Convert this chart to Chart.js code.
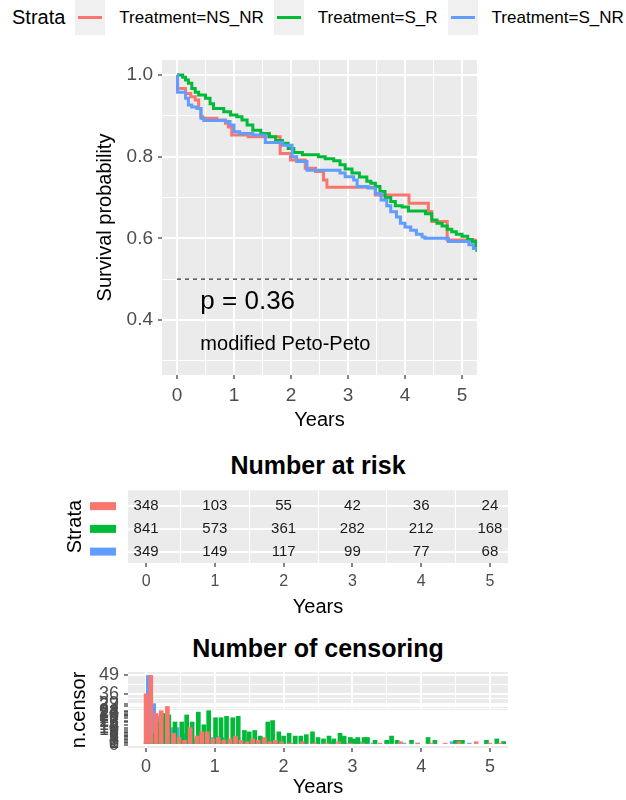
<!DOCTYPE html>
<html>
<head>
<meta charset="utf-8">
<title>Survival by treatment</title>
<script src="https://cdn.jsdelivr.net/npm/chart.js@4.4.1/dist/chart.umd.min.js"></script>
<style>
  body { margin: 0; background: #fff; font-family: "Liberation Sans", Arial, sans-serif; }
  #page { position: relative; width: 626px; height: 800px; overflow: hidden; }
  .pane { position: absolute; left: 0; }
  #legend { position: absolute; top: 0; left: 12px; height: 35px; display: flex; align-items: center;
            font-size: 17px; white-space: nowrap; color: #000; }
  #legend .ltitle { font-size: 20px; margin-right: 10px; }
  #legend .key { width: 30px; height: 35px; background: #F0F0F0; position: relative; margin-right: 14px; }
  #legend .key i { position: absolute; left: 3px; right: 3px; top: 16px; height: 3px; }
  #legend .lab { margin-right: 10px; }
  .ptitle { position: absolute; left: 128px; width: 380px; text-align: center; font-weight: bold;
            font-size: 25px; line-height: 30px; color: #000; }
</style>
</head>
<body>
<div id="page">
  <div id="legend"><span class="ltitle">Strata</span></div>
  <div class="pane" style="top:40px"><canvas id="survChart" width="626" height="400"></canvas></div>
  <div class="ptitle" style="top:450px">Number at risk</div>
  <div class="pane" style="top:480px"><canvas id="riskChart" width="626" height="140"></canvas></div>
  <div class="ptitle" style="top:633px">Number of censoring</div>
  <div class="pane" style="top:655px"><canvas id="censorChart" width="626" height="145"></canvas></div>
</div>
<script>
// strata
const strataNames = ['Treatment=NS_NR', 'Treatment=S_R', 'Treatment=S_NR'];
const strataColors = ['#F8766D', '#00BA38', '#619CFF'];

// Kaplan-Meier curves (years, survival probability)
const survTimesNS_NR = [0, 0.01, 0.15, 0.24, 0.32, 0.38, 0.42, 0.45, 0.70, 0.85, 0.90, 0.96, 1.25, 1.81, 1.99, 2.25, 2.43, 2.57, 2.63, 3.48, 4.07, 4.41, 4.47, 4.74, 5.26];
const survNS_NR      = [1, 0.967, 0.955, 0.947, 0.939, 0.918, 0.898, 0.894, 0.890, 0.882, 0.873, 0.853, 0.849, 0.808, 0.792, 0.772, 0.764, 0.743, 0.725, 0.706, 0.686, 0.666, 0.641, 0.596, 0.596];

const survTimesS_R = [0, 0.10, 0.15, 0.20, 0.26, 0.32, 0.38, 0.50, 0.58, 0.64, 0.82, 0.94, 1.05, 1.14, 1.23, 1.33, 1.47, 1.62, 1.73, 1.85, 1.95, 2.05, 2.20, 2.48, 2.60, 2.75, 2.86, 2.95, 3.07, 3.20, 3.33, 3.40, 3.48, 3.56, 3.65, 3.75, 3.83, 3.95, 4.06, 4.36, 4.47, 4.56, 4.65, 4.74, 4.82, 4.90, 5.00, 5.10, 5.18, 5.24, 5.26];
const survS_R      = [1, 0.995, 0.988, 0.980, 0.967, 0.958, 0.951, 0.943, 0.930, 0.918, 0.910, 0.902, 0.898, 0.890, 0.878, 0.865, 0.857, 0.849, 0.840, 0.833, 0.820, 0.810, 0.805, 0.800, 0.795, 0.790, 0.780, 0.770, 0.760, 0.750, 0.740, 0.735, 0.727, 0.715, 0.700, 0.690, 0.680, 0.677, 0.667, 0.660, 0.645, 0.637, 0.630, 0.622, 0.616, 0.610, 0.605, 0.597, 0.592, 0.575, 0.567];

const survTimesS_NR = [0, 0.01, 0.15, 0.20, 0.26, 0.35, 0.42, 0.47, 0.85, 0.93, 1.00, 1.10, 1.33, 1.55, 1.85, 2.02, 2.10, 2.28, 2.86, 2.95, 3.10, 3.16, 3.35, 3.48, 3.58, 3.68, 3.75, 3.85, 3.92, 4.00, 4.10, 4.20, 4.30, 4.35, 4.76, 5.12, 5.20, 5.26];
const survS_NR      = [1, 0.958, 0.943, 0.927, 0.922, 0.918, 0.894, 0.889, 0.886, 0.878, 0.861, 0.857, 0.853, 0.835, 0.828, 0.800, 0.788, 0.767, 0.760, 0.751, 0.743, 0.727, 0.723, 0.710, 0.694, 0.680, 0.665, 0.652, 0.637, 0.628, 0.620, 0.610, 0.603, 0.600, 0.592, 0.584, 0.575, 0.575];

const medianLine = 0.5;
const pvalLabel = 'p = 0.36';
const methodLabel = 'modified Peto-Peto';
const pvalAt = [0.41, 0.445];
const methodAt = [0.41, 0.34];

// number at risk
const riskTimes = [0, 1, 2, 3, 4, 5];
const riskNS_NR = [348, 103, 55, 42, 36, 24];
const riskS_R   = [841, 573, 361, 282, 212, 168];
const riskS_NR  = [349, 149, 117, 99, 77, 68];

// number censored at each time
const censTimesNS_NR = [0, 0.068, 0.145, 0.22, 0.31, 0.40, 0.48, 0.56, 0.64, 0.74, 0.81, 0.89, 0.97, 1.05, 1.13, 1.22, 1.30, 1.38, 1.47, 1.55, 1.63, 1.72, 1.80, 1.88, 1.97, 2.10, 2.27, 2.45, 2.62, 2.80, 2.97, 3.15, 3.40, 3.70, 3.95, 4.15, 4.35, 4.55, 4.80, 5.00, 5.15];
const censNS_NR      = [36, 49, 22, 24, 27, 8, 5, 3, 12, 6, 9, 9, 4, 5, 3, 4, 6, 3, 2, 4, 3, 5, 2, 3, 2, 1, 2, 1, 1, 2, 1, 1, 1, 2, 1, 1, 1, 2, 2, 1, 1];

const censTimesS_R = [0, 0.08, 0.16, 0.246, 0.33, 0.42, 0.52, 0.59, 0.67, 0.76, 0.84, 0.91, 1.01, 1.09, 1.17, 1.26, 1.34, 1.43, 1.50, 1.58, 1.66, 1.77, 1.84, 1.93, 2.00, 2.08, 2.17, 2.25, 2.33, 2.42, 2.50, 2.58, 2.66, 2.73, 2.82, 2.88, 2.97, 3.02, 3.08, 3.17, 3.22, 3.33, 3.50, 3.57, 3.65, 3.86, 4.10, 4.20, 4.50, 4.55, 4.60, 4.95, 5.10, 5.20];
const censS_R      = [2, 8, 16, 22, 21, 16, 16, 21, 16, 23, 14, 24, 19, 19, 20, 19, 20, 10, 9, 10, 6, 16, 17, 9, 6, 8, 6, 6, 7, 9, 5, 4, 6, 4, 8, 6, 5, 4, 5, 5, 5, 3, 3, 6, 3, 3, 5, 3, 3, 3, 3, 3, 4, 2];

const censTimesS_NR = [0.033, 0.11, 0.19, 0.285, 0.37, 0.45, 0.54, 0.62, 0.70, 0.79, 0.87, 0.94, 1.02, 1.10, 1.18, 1.27, 1.35, 1.43, 1.52, 1.60, 1.70, 1.80, 1.90, 2.00, 2.15, 2.30, 2.50, 2.70, 2.90, 3.10, 3.30, 3.50, 3.75, 3.95, 4.20, 4.45, 4.70, 4.95, 5.20];
const censS_NR      = [49, 29, 20, 19, 12, 12, 8, 5, 4, 6, 7, 5, 6, 5, 4, 5, 3, 3, 2, 3, 2, 2, 2, 2, 1, 2, 1, 2, 1, 2, 1, 2, 1, 1, 1, 2, 1, 1, 2];

// axis breaks
const yearTicks = [0, 1, 2, 3, 4, 5];
const yearMinor = [0.5, 1.5, 2.5, 3.5, 4.5];
const survTicks = [0.4, 0.6, 0.8, 1.0];
const survMinor = [0.3, 0.5, 0.7, 0.9];

const FONT = '"Liberation Sans", Arial, sans-serif';
const TICK_TEXT = '#4D4D4D';
const TICK_MARK = '#333333';
const PANEL = '#EBEBEB';
const xMin = -0.263, xMax = 5.263;

Chart.defaults.font.family = FONT;
Chart.defaults.animation = false;

// legend strip
const legendEl = document.getElementById('legend');
strataNames.forEach((name, i) => {
  const key = document.createElement('span');
  key.className = 'key';
  key.innerHTML = '<i style="background:' + strataColors[i] + '"></i>';
  const lab = document.createElement('span');
  lab.className = 'lab';
  lab.textContent = name;
  legendEl.appendChild(key);
  legendEl.appendChild(lab);
});

function zipXY(xs, ys) {
  return xs.map((x, i) => ({ x: x, y: ys[i] }));
}

function withMinor(major, minor) {
  return major.map(v => ({ value: v }))
    .concat(minor.map(v => ({ value: v, isMinor: true })))
    .sort((a, b) => a.value - b.value);
}

const isMinor = c => !!(c.tick && c.tick.isMinor);

// grey panel behind the grid
const panelBg = {
  id: 'panelBg',
  beforeDraw(chart) {
    const a = chart.chartArea;
    const ctx = chart.ctx;
    ctx.save();
    ctx.fillStyle = PANEL;
    ctx.fillRect(a.left, a.top, a.right - a.left, a.bottom - a.top);
    ctx.restore();
  }
};

function yearAxis(o) {
  return {
    type: 'linear',
    min: xMin,
    max: xMax,
    offset: false,
    afterBuildTicks: s => { s.ticks = withMinor(yearTicks, yearMinor); },
    afterFit: s => { s.height = o.height; },
    border: { display: false },
    grid: {
      offset: false,
      color: c => isMinor(c) ? '#FFFFFF' : (o.majorGrid ? '#FFFFFF' : 'rgba(0,0,0,0)'),
      lineWidth: c => isMinor(c) ? 1 : 2,
      tickColor: c => isMinor(c) ? 'rgba(0,0,0,0)' : TICK_MARK,
      tickWidth: 1.2,
      tickLength: 4
    },
    ticks: {
      autoSkip: false,
      maxRotation: 0,
      padding: o.pad,
      color: TICK_TEXT,
      font: { size: o.size },
      callback: v => yearTicks.includes(v) ? String(v) : ''
    },
    title: {
      display: true,
      text: 'Years',
      color: '#000',
      font: { size: 20 },
      padding: { top: 0, bottom: o.titlePad }
    }
  };
}

// ---------- survival curves ----------
const survNotes = {
  id: 'survNotes',
  beforeDatasetsDraw(chart) {
    const { ctx, scales: { x, y }, chartArea } = chart;
    const py = y.getPixelForValue(medianLine);
    ctx.save();
    ctx.strokeStyle = '#000';
    ctx.lineWidth = 1;
    ctx.setLineDash([4, 4]);
    ctx.beginPath();
    ctx.moveTo(x.getPixelForValue(0), py);
    ctx.lineTo(chartArea.right, py);
    ctx.stroke();
    ctx.restore();
  },
  afterDatasetsDraw(chart) {
    const { ctx, scales: { x, y } } = chart;
    ctx.save();
    ctx.fillStyle = '#000';
    ctx.textAlign = 'left';
    ctx.textBaseline = 'middle';
    ctx.font = '26px ' + FONT;
    ctx.fillText(pvalLabel, x.getPixelForValue(pvalAt[0]), y.getPixelForValue(pvalAt[1]));
    ctx.font = '20px ' + FONT;
    ctx.fillText(methodLabel, x.getPixelForValue(methodAt[0]), y.getPixelForValue(methodAt[1]));
    ctx.restore();
  }
};

const survSeries = [
  zipXY(survTimesNS_NR, survNS_NR),
  zipXY(survTimesS_R, survS_R),
  zipXY(survTimesS_NR, survS_NR)
];

new Chart(document.getElementById('survChart'), {
  type: 'line',
  data: {
    datasets: survSeries.map((pts, i) => ({
      label: strataNames[i],
      data: pts,
      borderColor: strataColors[i],
      borderWidth: 3,
      stepped: 'before',
      pointRadius: 0,
      fill: false,
      order: 3 - i
    }))
  },
  options: {
    responsive: false,
    layout: { padding: { left: 0, right: 149, top: 20, bottom: 2 } },
    plugins: { legend: { display: false }, tooltip: { enabled: false } },
    scales: {
      x: yearAxis({ height: 63, pad: 5, size: 19, titlePad: 6, majorGrid: true }),
      y: {
        type: 'linear',
        min: 0.265,
        max: 1.037,
        afterBuildTicks: s => { s.ticks = withMinor(survTicks, survMinor); },
        afterFit: s => { s.width = 162; },
        border: { display: false },
        grid: {
          color: '#FFFFFF',
          lineWidth: c => isMinor(c) ? 1 : 2,
          tickColor: c => isMinor(c) ? 'rgba(0,0,0,0)' : TICK_MARK,
          tickWidth: 1.2,
          tickLength: 4
        },
        ticks: {
          autoSkip: false,
          padding: 5,
          color: TICK_TEXT,
          font: { size: 19 },
          callback: v => survTicks.includes(v) ? v.toFixed(1) : ''
        },
        title: {
          display: true,
          text: 'Survival probability',
          color: '#000',
          font: { size: 20 },
          padding: { top: 93, bottom: 0 }
        }
      }
    }
  },
  plugins: [panelBg, survNotes]
});

// ---------- risk table ----------
const riskRows = [3, 2, 1];
const riskSeries = [riskNS_NR, riskS_R, riskS_NR];

const riskText = {
  id: 'riskText',
  afterDatasetsDraw(chart) {
    const { ctx, scales: { x, y }, chartArea } = chart;
    ctx.save();
    ctx.font = '15px ' + FONT;
    ctx.textAlign = 'center';
    ctx.textBaseline = 'middle';
    chart.data.datasets.forEach((ds, i) => {
      const py = y.getPixelForValue(riskRows[i]);
      ctx.fillStyle = '#1A1A1A';
      ds.data.forEach(p => {
        ctx.fillText(String(p.n), x.getPixelForValue(p.x), py);
      });
      // colour key next to each row
      ctx.fillStyle = strataColors[i];
      ctx.fillRect(chartArea.left - 38, py - 4, 26, 8);
    });
    ctx.restore();
  }
};

new Chart(document.getElementById('riskChart'), {
  type: 'scatter',
  data: {
    datasets: riskSeries.map((vals, i) => ({
      label: strataNames[i],
      data: riskTimes.map((t, j) => ({ x: t, y: riskRows[i], n: vals[j] })),
      pointRadius: 0
    }))
  },
  options: {
    responsive: false,
    layout: { padding: { left: 0, right: 118, top: 7, bottom: 0 } },
    plugins: { legend: { display: false }, tooltip: { enabled: false } },
    scales: {
      x: yearAxis({ height: 57, pad: 5, size: 16, titlePad: 1, majorGrid: false }),
      y: {
        type: 'linear',
        min: 0.5,
        max: 3.7,
        afterBuildTicks: s => { s.ticks = riskRows.map(v => ({ value: v })); },
        afterFit: s => { s.width = 128; },
        border: { display: false },
        grid: { color: '#FFFFFF', lineWidth: 2, drawTicks: false },
        ticks: { display: true, callback: () => '' },
        title: {
          display: true,
          text: 'Strata',
          color: '#000',
          font: { size: 20 },
          padding: { top: 63, bottom: 0 }
        }
      }
    }
  },
  plugins: [panelBg, riskText]
});

// ---------- censoring ----------
const censSeries = [
  zipXY(censTimesNS_NR, censNS_NR),
  zipXY(censTimesS_R, censS_R),
  zipXY(censTimesS_NR, censS_NR)
];
// y breaks at every distinct count (0 included), minor lines halfway between
const censBreaks = Array.from(new Set([0].concat(censNS_NR, censS_R, censS_NR))).sort((a, b) => a - b);
const censMinor = censBreaks.slice(1).map((v, i) => (v + censBreaks[i]) / 2);
const censTop = censBreaks[censBreaks.length - 1];

new Chart(document.getElementById('censorChart'), {
  type: 'bar',
  data: {
    datasets: censSeries.map((pts, i) => ({
      label: strataNames[i],
      data: pts,
      backgroundColor: strataColors[i],
      barThickness: 4,
      grouped: false
    }))
  },
  options: {
    responsive: false,
    layout: { padding: { left: 0, right: 118, top: 17, bottom: 0 } },
    plugins: { legend: { display: false }, tooltip: { enabled: false } },
    scales: {
      x: yearAxis({ height: 52, pad: 4, size: 18, titlePad: 1, majorGrid: true }),
      y: {
        type: 'linear',
        min: -censTop * 0.05,
        max: censTop * 1.05,
        afterBuildTicks: s => { s.ticks = withMinor(censBreaks, censMinor); },
        afterFit: s => { s.width = 128; },
        border: { display: false },
        grid: {
          color: '#FFFFFF',
          lineWidth: c => isMinor(c) ? 1 : 2,
          tickColor: c => isMinor(c) ? 'rgba(0,0,0,0)' : TICK_MARK,
          tickWidth: 1.2,
          tickLength: 4
        },
        ticks: {
          autoSkip: false,
          padding: 5,
          color: TICK_TEXT,
          font: { size: 18 },
          callback: v => censBreaks.includes(v) ? String(v) : ''
        },
        title: {
          display: true,
          text: 'n.censor',
          color: '#000',
          font: { size: 20 },
          padding: { top: 67, bottom: 0 }
        }
      }
    }
  },
  plugins: [panelBg]
});
</script>
</body>
</html>
